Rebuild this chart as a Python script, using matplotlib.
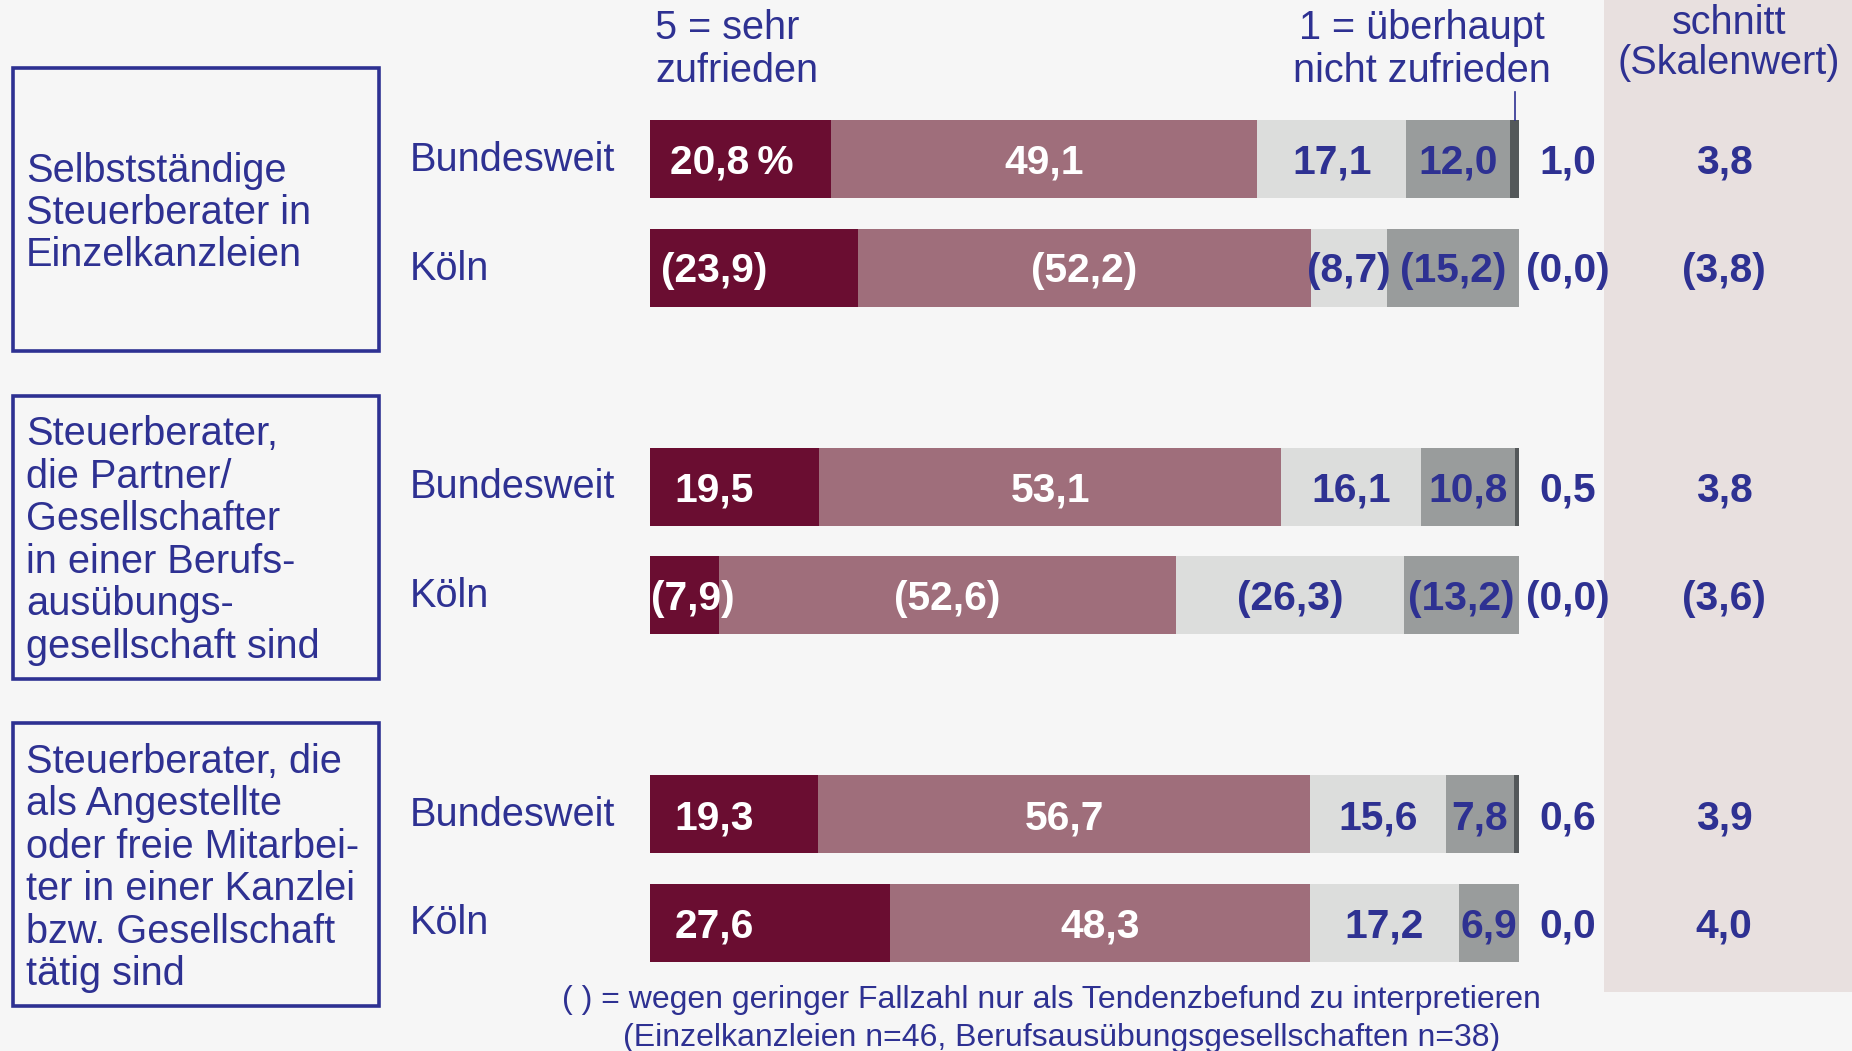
import matplotlib.pyplot as plt
import matplotlib.patches as patches

plt.rcParams['font.family'] = ['Liberation Sans', 'DejaVu Sans']

# data
group_labels = [
    "Selbstständige\nSteuerberater in\nEinzelkanzleien",
    "Steuerberater,\ndie Partner/\nGesellschafter\nin einer Berufs-\nausübungs-\ngesellschaft sind",
    "Steuerberater, die\nals Angestellte\noder freie Mitarbei-\nter in einer Kanzlei\nbzw. Gesellschaft\ntätig sind",
]
row_labels = ["Bundesweit", "Köln"]
s5 = [20.8, 23.9, 19.5, 7.9, 19.3, 27.6]   # 5 = sehr zufrieden
s4 = [49.1, 52.2, 53.1, 52.6, 56.7, 48.3]
s3 = [17.1, 8.7, 16.1, 26.3, 15.6, 17.2]
s2 = [12.0, 15.2, 10.8, 13.2, 7.8, 6.9]
s1 = [1.0, 0.0, 0.5, 0.0, 0.6, 0.0]        # 1 = überhaupt nicht zufrieden
mean = [3.8, 3.8, 3.8, 3.6, 3.9, 4.0]
tentative = [False, True, False, True, False, False]

NAVY = '#2e3192'
BG = '#f6f6f6'
seg_colors = ['#6a0d31', '#9f6e7b', '#dcdddc', '#999c9c', '#54585a']
seg_text = ['white', 'white', NAVY, NAVY]

W, H = 1852, 1051
fig = plt.figure(figsize=(W / 100, H / 100), dpi=100)
fig.patch.set_facecolor(BG)

def fx(px):
    return px / W

def fy(py):
    return 1 - py / H

# axes: x in percent (0 at pixel 650, 100 at pixel 1519), y in pixels from top
x0, x100 = 650, 1519
ppx = (x100 - x0) / 100
ax = fig.add_axes([0, 0, 1, 1])
ax.set_xlim(-x0 / ppx, (W - x0) / ppx)
ax.set_ylim(H, 0)
ax.axis('off')
ax.patch.set_alpha(0)

def px2x(px):
    return (px - x0) / ppx

# shaded column for the average
ax.add_patch(patches.Rectangle((px2x(1604), 0), px2x(W) - px2x(1604), 992,
                               facecolor='#e8e0df', edgecolor='none', zorder=0))

def fmt(v, paren):
    s = f"{v:.1f}".replace('.', ',')
    return f"({s})" if paren else s

bar_h = 78
val_fs = 29.3
lab_fs = 28.6
segs = [s5, s4, s3, s2, s1]
for i in range(len(s5)):
    g, r = divmod(i, 2)
    yc = 159 + g * 327.5 + r * 108.5
    left = 0
    for k, seg in enumerate(segs):
        ax.barh(yc, seg[i], left=left, height=bar_h, color=seg_colors[k], edgecolor='none', zorder=2)
        if k < 4:
            txt = fmt(seg[i], tentative[i])
            if k == 0:
                xt = min(7.4, seg[i] / 2 + 1.0)
                if i == 0:
                    txt += '\u2009%'
                    xt += 2.0
            else:
                xt = left + seg[i] / 2
            ax.text(xt, yc + 4, txt, ha='center', va='center', fontsize=val_fs,
                    fontweight='bold', color=seg_text[k], zorder=3)
        left += seg[i]
    ax.text(px2x(1568), yc + 4, fmt(s1[i], tentative[i]), ha='center', va='center',
            fontsize=val_fs, fontweight='bold', color=NAVY, zorder=3)
    ax.text(px2x(1724), yc + 4, fmt(mean[i], tentative[i]), ha='center', va='center',
            fontsize=val_fs, fontweight='bold', color=NAVY, zorder=3)
    ax.text(px2x(410), yc + 1, row_labels[r], ha='left', va='center',
            fontsize=lab_fs, color=NAVY)

# pointer line to the "1" segment
ax.plot([100 - s1[0] / 2] * 2, [92, 159 - bar_h / 2], color=NAVY, lw=1.2, zorder=4)

# group boxes
line_step = 42.5
for g, lab in enumerate(group_labels):
    top = 68 + g * 327.5
    ax.add_patch(patches.Rectangle((px2x(13), top), px2x(379) - px2x(13), 283,
                                   facecolor='none', edgecolor=NAVY, lw=2.6, zorder=1))
    lines = lab.split('\n')
    yc = top + 145
    for j, ln in enumerate(lines):
        ax.text(px2x(26), yc + (j - (len(lines) - 1) / 2) * line_step, ln,
                ha='left', va='center', fontsize=lab_fs, color=NAVY)

# headers
hdr_fs = 28.5
for j, ln in enumerate(["5 = sehr", "zufrieden"]):
    ax.text(px2x(655), 28 + j * line_step, ln, ha='left', va='center', fontsize=hdr_fs, color=NAVY)
for j, ln in enumerate(["1 = überhaupt", "nicht zufrieden"]):
    ax.text(px2x(1422), 28 + j * line_step, ln, ha='center', va='center', fontsize=hdr_fs, color=NAVY)
for j, ln in enumerate(["schnitt", "(Skalenwert)"]):
    ax.text(px2x(1729), 23 + j * 40, ln, ha='center', va='center', fontsize=hdr_fs, color=NAVY)

# footnote
ax.text(px2x(1051), 1000, "( ) = wegen geringer Fallzahl nur als Tendenzbefund zu interpretieren",
        ha='center', va='center', fontsize=23, color=NAVY)
ax.text(px2x(1062), 1038, "(Einzelkanzleien n=46, Berufsausübungsgesellschaften n=38)",
        ha='center', va='center', fontsize=23, color=NAVY)

fig.savefig('out.png', dpi=100, facecolor=BG)
